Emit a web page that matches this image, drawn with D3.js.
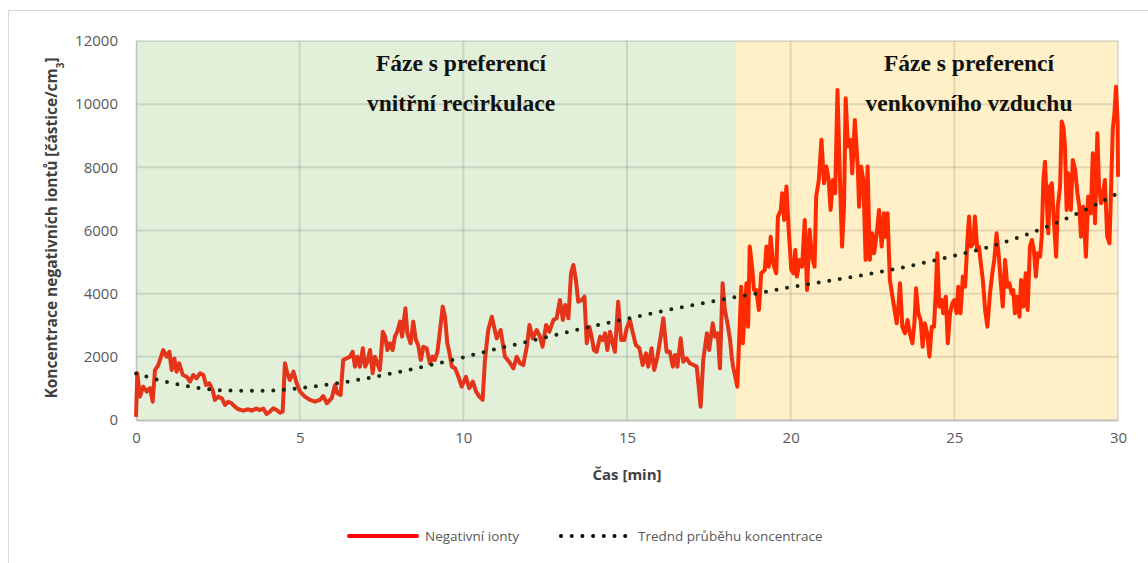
<!DOCTYPE html>
<html>
<head>
<meta charset="utf-8">
<script src="https://cdn.jsdelivr.net/npm/d3@7"></script>
<style>
  body { margin: 0; background: #fff; }
  svg { display: block; }
  .tick text { font-family: "Open Sans", sans-serif; font-size: 15px; fill: #595959; }
</style>
</head>
<body>
<div id="chart"></div>
<script>
// time [min] and measured negative ion concentration
const times = [0.00,0.04,0.12,0.22,0.33,0.43,0.51,0.58,0.68,0.83,0.94,1.02,1.09,1.17,1.24,1.32,1.43,1.55,1.65,1.75,1.85,1.96,2.06,2.14,2.24,2.34,2.41,2.51,2.62,2.72,2.82,2.92,3.02,3.13,3.28,3.43,3.53,3.67,3.79,3.89,3.99,4.09,4.19,4.30,4.40,4.48,4.55,4.62,4.70,4.81,4.91,5.01,
  5.16,5.32,5.47,5.62,5.72,5.83,5.98,6.08,6.15,6.25,6.33,6.44,6.54,6.62,6.69,6.76,6.84,6.93,7.00,7.07,7.15,7.23,7.30,7.37,7.45,7.54,7.61,7.68,7.76,7.84,7.91,7.98,8.07,8.13,8.23,8.29,8.39,8.47,8.55,8.62,8.70,8.78,8.88,8.98,9.06,9.13,9.21,9.29,9.37,9.44,9.51,9.57,9.65,9.75,9.85,9.95,10.08,10.18,10.29,10.39,10.49,10.59,10.66,10.76,10.87,
  11.02,11.14,11.27,11.40,11.53,11.63,11.73,11.83,11.94,12.02,12.12,12.24,12.34,12.42,12.53,12.63,12.75,12.85,12.95,13.04,13.11,13.21,13.29,13.36,13.44,13.51,13.62,13.70,13.77,13.85,13.92,13.99,14.07,14.18,14.26,14.33,14.40,14.48,14.56,14.63,14.73,14.82,14.92,14.99,15.09,15.17,15.27,15.38,15.48,15.58,15.65,15.75,15.83,15.93,16.03,16.11,16.21,16.31,16.40,16.47,16.54,16.64,16.72,16.82,16.92,17.03,17.13,17.20,17.25,17.33,17.44,17.51,17.62,17.69,17.77,17.84,17.92,17.99,18.07,18.15,18.20,18.24,18.37,
  18.49,18.54,18.65,18.70,18.75,18.82,18.88,18.95,19.03,19.10,19.21,19.26,19.33,19.39,19.46,19.56,19.61,19.70,19.74,19.80,19.87,19.94,20.02,20.09,20.14,20.19,20.28,20.35,20.43,20.50,20.58,20.65,20.73,20.78,20.86,20.94,21.02,21.09,21.16,21.22,21.29,21.36,21.43,21.50,21.57,21.63,21.68,21.75,21.83,21.88,21.96,
  22.05,22.09,22.15,22.22,22.29,22.35,22.42,22.49,22.55,22.63,22.70,22.78,22.85,22.90,22.96,23.03,23.11,23.19,23.24,23.29,23.34,23.41,23.49,23.57,23.64,23.72,23.78,23.83,23.90,23.97,24.03,24.10,24.17,24.24,24.31,24.38,24.43,24.48,24.54,24.61,24.66,24.74,24.80,24.87,24.94,25.00,25.07,25.12,25.19,25.26,25.33,25.40,25.45,25.51,25.58,25.63,25.70,25.75,
  25.87,25.94,26.01,26.09,26.16,26.22,26.29,26.36,26.42,26.48,26.55,26.62,26.68,26.75,26.80,26.85,26.92,26.99,27.04,27.11,27.18,27.24,27.31,27.37,27.43,27.49,27.55,27.62,27.67,27.72,27.77,27.82,27.87,27.92,27.98,28.04,28.11,28.16,28.23,28.28,28.33,28.38,28.43,28.48,28.56,28.62,28.69,28.76,28.82,28.87,28.94,29.02,29.09,29.17,29.23,29.30,29.37,29.42,29.48,29.53,29.60,29.67,29.74,29.79,29.84,29.89,29.94,29.99,30.00];
const ions = [100,1480,740,1055,900,1010,580,1580,1740,2215,2005,2160,1580,1950,1530,1795,1425,1370,1215,1425,1320,1480,1425,1110,1160,950,635,740,690,475,580,530,420,340,295,340,295,360,317,360,190,265,370,317,230,265,1795,1480,1265,1530,1160,900,
  740,635,580,635,760,530,690,1110,845,790,1900,1955,2005,2160,1690,2005,1690,2270,1690,1845,2215,1480,2005,1795,1580,2795,2640,2215,2430,2215,2640,2795,3115,2640,3540,2745,2430,3115,2535,2375,1900,2320,2270,1795,2005,1900,2160,2850,3590,3270,2430,2160,1690,1635,1370,1055,1370,1005,1215,900,740,635,1900,2850,3270,
  2585,2850,2005,1845,1635,2005,1795,1740,2320,3010,2585,2850,2640,2320,3010,2795,3165,3220,3800,3165,3640,3220,4645,4910,4435,3745,3800,3905,2430,2955,2640,2215,2160,2640,2535,2745,2215,2795,2430,2160,3745,2535,2535,2905,3165,2795,2375,2270,1740,2110,1690,2270,1580,2005,2640,3220,2160,2160,1690,2060,1690,2585,1845,1955,1795,1740,1690,950,420,1900,2745,2215,3060,2640,2745,1635,4330,3485,3060,2535,2005,1700,1055,
  4220,2430,4330,2955,5490,4855,4117,4117,3485,4645,4750,5490,4855,5805,4963,4645,6440,6650,7180,6335,7390,6020,4750,4645,5385,4540,5070,4855,6335,4117,6020,5170,4855,7075,7600,8870,7495,8025,7600,6650,7600,7180,10450,7810,5490,6755,10190,8660,8870,7810,9500,
  8025,6755,8025,7600,5070,8025,5070,5910,5280,5910,6650,5490,6545,5805,6545,4435,3905,3380,3060,3590,4330,2955,2745,3165,2745,2430,3060,4170,3380,3165,2320,3060,2745,2005,2955,2955,4010,5280,3590,3800,3380,3905,2430,3380,3695,3800,3380,4220,3380,4540,4220,5700,6440,5490,5595,6440,5385,5490,
  4435,3485,2955,4010,4645,5070,5910,5170,4330,3590,5070,4220,4330,4010,4117,3380,3905,3270,4435,3590,4645,3485,5490,5700,5385,4540,5280,5170,5805,7600,8180,6965,5910,7390,7495,6335,5170,6755,7390,9450,9290,8660,6650,7810,6650,8235,7920,7180,6755,5805,6755,5170,7075,6545,8445,6230,9080,7390,6860,7075,7600,5805,5595,7390,9185,9710,10555,9395,7700];

// trend curve, one value per minute
const trendTimes = [0,1,2,3,4,5,6,7,8,9,10,11,12,13,14,15,16,17,18,19,20,21,22,23,24,25,26,27,28,29,30];
const trendValues = [1470,1190,1000,930,930,1010,1140,1310,1515,1740,1985,2245,2490,2735,2980,3205,3430,3635,3832,4013,4207,4377,4550,4742,4960,5200,5465,5795,6190,6655,7180];

const xTicks = [0, 5, 10, 15, 20, 25, 30];
const yTicks = [0, 2000, 4000, 6000, 8000, 10000, 12000];
const phaseSplit = 18.33;
const phaseLabels = [
  ["Fáze s preferencí", "vnitřní recirkulace"],
  ["Fáze s preferencí", "venkovního vzduchu"]
];
const legendLabels = ["Negativní ionty", "Trednd průběhu koncentrace"];

const W = 1148, H = 563;
const svg = d3.select("#chart").append("svg").attr("width", W).attr("height", H);

// chart area border
svg.append("rect")
  .attr("x", 8.5).attr("y", 10.5)
  .attr("width", W).attr("height", H)
  .attr("fill", "#fff").attr("stroke", "#d9d9d9");

const x = d3.scaleLinear().domain([0, 30]).range([136, 1118]);
const y = d3.scaleLinear().domain([0, 12000]).range([420, 41]);

// phase backgrounds
svg.append("rect")
  .attr("x", x(0)).attr("y", y(12000))
  .attr("width", x(phaseSplit) - x(0)).attr("height", y(0) - y(12000))
  .attr("fill", "#e2f0d9");
svg.append("rect")
  .attr("x", x(phaseSplit)).attr("y", y(12000))
  .attr("width", x(30) - x(phaseSplit)).attr("height", y(0) - y(12000))
  .attr("fill", "#fff0c8");

// gridlines
svg.append("g").selectAll("line").data(yTicks.filter((d) => d > 0)).join("line")
  .attr("x1", x(0)).attr("x2", x(30))
  .attr("y1", (d) => y(d)).attr("y2", (d) => y(d))
  .attr("stroke", "#000").attr("stroke-opacity", 0.11).attr("stroke-width", 2);
svg.append("g").selectAll("line").data(xTicks.filter((d) => d > 0)).join("line")
  .attr("x1", (d) => x(d)).attr("x2", (d) => x(d))
  .attr("y1", y(0)).attr("y2", y(12000))
  .attr("stroke", "#000").attr("stroke-opacity", 0.11).attr("stroke-width", 2);

// axes
const yAxis = svg.append("g")
  .attr("transform", `translate(${x(0)},0)`)
  .call(d3.axisLeft(y).tickValues(yTicks).tickFormat(d3.format("d")).tickSize(0).tickPadding(18));
yAxis.select(".domain").attr("stroke", "#bfbfbf").attr("stroke-width", 1.5);

const xAxis = svg.append("g")
  .attr("transform", `translate(0,${y(0)})`)
  .call(d3.axisBottom(x).tickValues(xTicks).tickSize(0).tickPadding(12));
xAxis.select(".domain").attr("stroke", "#bfbfbf").attr("stroke-width", 2);

// phase labels
const phaseX = [(x(0) + x(phaseSplit)) / 2 + 25, (x(phaseSplit) + x(30)) / 2 + 42];
phaseLabels.forEach((lines, i) => {
  lines.forEach((t, j) => {
    svg.append("text")
      .attr("x", phaseX[i]).attr("y", 71 + j * 40)
      .attr("text-anchor", "middle")
      .attr("font-family", "'Liberation Serif', 'Times New Roman', serif")
      .attr("font-weight", "bold").attr("font-size", 23.5)
      .attr("fill", "#111")
      .text(t);
  });
});

// measured series, a little darker over the green phase
const points = times.map((t, i) => [t, ions[i]]);
const line = d3.line().x((d) => x(d[0])).y((d) => y(d[1]));

const defs = svg.append("defs");
defs.append("clipPath").attr("id", "clipA").append("rect")
  .attr("x", 0).attr("y", 0).attr("width", x(phaseSplit)).attr("height", H);
defs.append("clipPath").attr("id", "clipB").append("rect")
  .attr("x", x(phaseSplit)).attr("y", 0).attr("width", W).attr("height", H);

svg.append("path").datum(points)
  .attr("clip-path", "url(#clipA)")
  .attr("d", line).attr("fill", "none")
  .attr("stroke", "#e4341a").attr("stroke-width", 4).attr("stroke-linejoin", "round");
svg.append("path").datum(points)
  .attr("clip-path", "url(#clipB)")
  .attr("d", line).attr("fill", "none")
  .attr("stroke", "#ff2a00").attr("stroke-width", 4).attr("stroke-linejoin", "round");

// trend curve, dotted
const trendLine = d3.line().curve(d3.curveMonotoneX).x((d) => x(d[0])).y((d) => y(d[1]));
svg.append("path").datum(trendTimes.map((t, i) => [t, trendValues[i]]))
  .attr("d", trendLine).attr("fill", "none")
  .attr("stroke", "#1c2412").attr("stroke-width", 4)
  .attr("stroke-linecap", "round").attr("stroke-dasharray", "0 10.7");

// axis titles
svg.append("text")
  .attr("x", 627).attr("y", 480).attr("text-anchor", "middle")
  .attr("font-family", "'Open Sans', sans-serif").attr("font-weight", "bold")
  .attr("font-size", 15).attr("fill", "#404040")
  .text("Čas [min]");

const yTitle = svg.append("text")
  .attr("transform", "translate(57,228) rotate(-90)")
  .attr("text-anchor", "middle")
  .attr("font-family", "'Open Sans', sans-serif").attr("font-weight", "bold")
  .attr("font-size", 15.5).attr("fill", "#404040");
yTitle.append("tspan").text("Koncentrace negativních iontů [částice/cm");
yTitle.append("tspan").attr("baseline-shift", "sub").attr("font-size", 10).text("3");
yTitle.append("tspan").text("]");

// legend
const legend = svg.append("g").attr("font-family", "'Open Sans', sans-serif")
  .attr("font-size", 13.5).attr("fill", "#595959");
legend.append("line")
  .attr("x1", 349).attr("x2", 417).attr("y1", 536).attr("y2", 536)
  .attr("stroke", "#ff0000").attr("stroke-width", 4).attr("stroke-linecap", "round");
legend.append("text").attr("x", 425).attr("y", 541).text(legendLabels[0]);
legend.append("line")
  .attr("x1", 561).attr("x2", 631).attr("y1", 536).attr("y2", 536)
  .attr("stroke", "#000").attr("stroke-width", 4)
  .attr("stroke-linecap", "round").attr("stroke-dasharray", "0 10.7");
legend.append("text").attr("x", 638).attr("y", 541).text(legendLabels[1]);
</script>
</body>
</html>
